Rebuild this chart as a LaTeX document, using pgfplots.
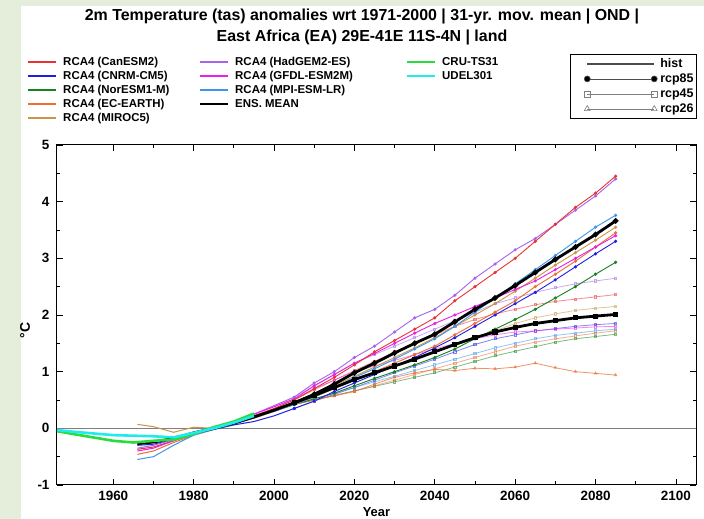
\documentclass[border=0pt]{standalone}
\usepackage{fontspec}
\setmainfont{Liberation Sans}
\usepackage{pgfplots}
\usepackage{pgfplotstable}
\pgfplotsset{compat=1.18}

\definecolor{bggreen}{RGB}{228,238,218}
\definecolor{cCan}{RGB}{235,50,50}
\definecolor{cCnrm}{RGB}{30,30,230}
\definecolor{cNor}{RGB}{20,130,30}
\definecolor{cEc}{RGB}{235,110,50}
\definecolor{cMiroc}{RGB}{200,150,70}
\definecolor{cHad}{RGB}{165,100,235}
\definecolor{cGfdl}{RGB}{235,30,235}
\definecolor{cMpi}{RGB}{60,150,235}
\definecolor{cCru}{RGB}{40,220,60}
\definecolor{cUdel}{RGB}{30,235,235}

% historical runs (31-yr moving mean)
\pgfplotstableread{
year can cnrm nor ec miroc had gfdl mpi ens
1966 -0.37 -0.30 -0.28 -0.46 0.07 -0.35 -0.40 -0.55 -0.27
1970 -0.33 -0.28 -0.25 -0.40 0.03 -0.30 -0.35 -0.50 -0.24
1975 -0.22 -0.20 -0.20 -0.25 -0.07 -0.20 -0.22 -0.30 -0.18
1980 -0.10 -0.10 -0.10 -0.12 0.02 -0.08 -0.10 -0.12 -0.08
1985 0.00 -0.02 0.00 -0.02 0.00 0.02 0.00 -0.02 0.00
1990 0.10 0.06 0.10 0.08 0.08 0.12 0.10 0.08 0.09
1995 0.22 0.12 0.20 0.18 0.18 0.25 0.25 0.20 0.20
2000 0.35 0.22 0.30 0.30 0.30 0.40 0.38 0.30 0.32
2005 0.50 0.35 0.42 0.42 0.45 0.55 0.52 0.42 0.45
}\histtab

\pgfplotstableread{
year can cnrm nor ec miroc had gfdl mpi ens
2005 0.50 0.35 0.42 0.42 0.45 0.55 0.52 0.42 0.45
2010 0.70 0.48 0.52 0.55 0.60 0.80 0.75 0.55 0.60
2015 0.90 0.65 0.62 0.70 0.75 1.00 0.95 0.72 0.78
2020 1.12 0.80 0.75 0.85 0.92 1.25 1.15 0.90 0.98
2025 1.35 0.95 0.88 1.00 1.08 1.45 1.32 1.05 1.15
2030 1.55 1.10 1.00 1.15 1.25 1.70 1.50 1.22 1.33
2035 1.75 1.25 1.12 1.30 1.42 1.95 1.68 1.40 1.50
2040 1.95 1.42 1.25 1.45 1.60 2.10 1.85 1.58 1.66
2045 2.25 1.60 1.40 1.65 1.80 2.35 2.00 1.80 1.88
2050 2.50 1.80 1.58 1.85 2.00 2.65 2.15 2.05 2.10
2055 2.75 2.00 1.75 2.05 2.20 2.90 2.30 2.30 2.30
2060 3.00 2.20 1.92 2.25 2.42 3.15 2.45 2.55 2.52
2065 3.30 2.40 2.10 2.50 2.65 3.35 2.60 2.80 2.75
2070 3.60 2.62 2.30 2.72 2.88 3.60 2.80 3.05 2.98
2075 3.90 2.85 2.50 2.95 3.10 3.85 3.00 3.30 3.20
2080 4.15 3.08 2.72 3.20 3.32 4.10 3.20 3.55 3.42
2085 4.45 3.30 2.93 3.45 3.55 4.40 3.40 3.76 3.66
}\rcpA

\pgfplotstableread{
year can cnrm nor ec miroc had gfdl mpi ens
2005 0.50 0.35 0.42 0.42 0.45 0.55 0.52 0.42 0.45
2010 0.68 0.48 0.50 0.50 0.58 0.75 0.70 0.52 0.58
2015 0.85 0.60 0.58 0.58 0.72 0.95 0.85 0.62 0.72
2020 1.02 0.72 0.66 0.66 0.85 1.15 1.00 0.72 0.86
2025 1.18 0.85 0.74 0.75 0.98 1.30 1.10 0.82 0.98
2030 1.35 0.98 0.82 0.85 1.10 1.45 1.20 0.92 1.10
2035 1.50 1.10 0.90 0.95 1.22 1.60 1.30 1.02 1.22
2040 1.65 1.22 0.98 1.05 1.35 1.75 1.40 1.12 1.35
2045 1.80 1.35 1.08 1.15 1.48 1.90 1.50 1.22 1.48
2050 1.92 1.48 1.18 1.25 1.60 2.05 1.58 1.32 1.60
2055 2.02 1.58 1.28 1.35 1.72 2.20 1.65 1.42 1.70
2060 2.10 1.65 1.36 1.45 1.85 2.30 1.70 1.50 1.78
2065 2.18 1.72 1.44 1.52 1.95 2.40 1.72 1.58 1.85
2070 2.24 1.76 1.52 1.58 2.02 2.48 1.75 1.64 1.90
2075 2.28 1.80 1.58 1.63 2.08 2.55 1.77 1.68 1.95
2080 2.32 1.83 1.62 1.68 2.12 2.60 1.79 1.72 1.98
2085 2.36 1.85 1.66 1.72 2.15 2.65 1.80 1.75 2.01
}\rcpB

\pgfplotstableread{
year ec
2005 0.42
2010 0.50
2015 0.57
2020 0.65
2025 0.78
2030 0.90
2035 0.98
2040 1.04
2045 1.02
2050 1.06
2055 1.05
2060 1.08
2065 1.15
2070 1.07
2075 1.00
2080 0.97
2085 0.94
}\rcpC

% observations
\pgfplotstableread{
year cru udel
1946 -0.05 -0.03
1950 -0.10 -0.06
1955 -0.16 -0.09
1960 -0.22 -0.12
1965 -0.25 -0.13
1970 -0.22 -0.14
1975 -0.20 -0.16
1980 -0.10 -0.08
1985 0.02 0.00
1990 0.12 0.10
1995 0.26 0.22
}\obs

\pgfplotsset{
  hist/.style={line width=1bp, mark=none},
  r85/.style={line width=0.9bp, mark=*, mark size=1.1bp},
  r45/.style={line width=0.8bp, mark=square, mark size=1.1bp, opacity=0.55},
  r26/.style={line width=0.8bp, mark=triangle, mark size=1.3bp, opacity=0.75},
  legbox/.style={hide axis, scale only axis, at={(0bp,0bp)}, anchor=south west,
    width=704bp, height=519bp, xmin=0, xmax=1, ymin=0, ymax=1},
  colleg/.style={legend style={draw=none, fill=none, inner sep=0pt,
    font=\bfseries\fontsize{11.5}{13}\selectfont, row sep=0pt,
    nodes={inner sep=1bp, text height=9.5bp, text depth=2.5bp}},
    legend cell align=left,
    legend image code/.code={\draw[##1] (0bp,0bp) -- (28bp,0bp); \path (33bp,0bp);}},
}

\begin{document}
\begin{tikzpicture}
\useasboundingbox (0,0) rectangle (704bp,519bp);
\fill[bggreen] (0,0) rectangle (704bp,519bp);
\fill[white] (21bp,0) rectangle (704bp,513bp);

\node[align=center, font=\bfseries\fontsize{16}{21}\selectfont] at (362bp,492bp)
  {2m Temperature (tas) anomalies wrt 1971-2000 | 31-yr. mov. mean | OND |\\
   East Africa (EA) 29E-41E 11S-4N | land};

\begin{axis}[
  at={(57bp,34bp)}, anchor=south west,
  scale only axis, width=639bp, height=340bp,
  xmin=1946, xmax=2105, ymin=-1, ymax=5,
  xtick={1960,1980,...,2100}, minor x tick num=1,
  ytick={-1,0,...,5}, minor y tick num=1,
  tick align=inside, major tick length=6bp, minor tick length=3.5bp,
  axis line style={line width=1bp},
  tick style={line width=0.8bp, black},
  /pgf/number format/1000 sep={},
  /pgf/number format/assume math mode=true,
  tick label style={font=\bfseries\fontsize{13.5}{15}\selectfont},
  xticklabel style={yshift=-3bp},
  yticklabel style={xshift=-4bp},
  xlabel={Year}, ylabel={°C},
  every axis x label/.style={at={(axis description cs:0.5,-0.08)}, anchor=center,
    font=\bfseries\fontsize{13}{15}\selectfont},
  every axis y label/.style={at={(axis description cs:-0.050,0.455)}, rotate=90, anchor=center,
    font=\bfseries\fontsize{14}{15}\selectfont},
]
\addplot[gray, line width=0.7bp, forget plot] coordinates {(1946,0) (2105,0)};

% hist
\addplot[hist, cCan] table[x=year, y=can] {\histtab};
\addplot[hist, cCnrm] table[x=year, y=cnrm] {\histtab};
\addplot[hist, cNor] table[x=year, y=nor] {\histtab};
\addplot[hist, cEc] table[x=year, y=ec] {\histtab};
\addplot[hist, cMiroc] table[x=year, y=miroc] {\histtab};
\addplot[hist, cHad] table[x=year, y=had] {\histtab};
\addplot[hist, cGfdl] table[x=year, y=gfdl] {\histtab};
\addplot[hist, cMpi] table[x=year, y=mpi] {\histtab};

% rcp45
\addplot[r45, cCan] table[x=year, y=can] {\rcpB};
\addplot[r45, cCnrm] table[x=year, y=cnrm] {\rcpB};
\addplot[r45, cNor] table[x=year, y=nor] {\rcpB};
\addplot[r45, cEc] table[x=year, y=ec] {\rcpB};
\addplot[r45, cMiroc] table[x=year, y=miroc] {\rcpB};
\addplot[r45, cHad] table[x=year, y=had] {\rcpB};
\addplot[r45, cGfdl] table[x=year, y=gfdl] {\rcpB};
\addplot[r45, cMpi] table[x=year, y=mpi] {\rcpB};

% rcp26
\addplot[r26, cEc] table[x=year, y=ec] {\rcpC};

% rcp85
\addplot[r85, cNor] table[x=year, y=nor] {\rcpA};
\addplot[r85, cCnrm] table[x=year, y=cnrm] {\rcpA};
\addplot[r85, cEc] table[x=year, y=ec] {\rcpA};
\addplot[r85, cMiroc] table[x=year, y=miroc] {\rcpA};
\addplot[r85, cGfdl] table[x=year, y=gfdl] {\rcpA};
\addplot[r85, cMpi] table[x=year, y=mpi] {\rcpA};
\addplot[r85, cHad] table[x=year, y=had] {\rcpA};
\addplot[r85, cCan] table[x=year, y=can] {\rcpA};

% ensemble means
\addplot[black, line width=2.8bp] table[x=year, y=ens] {\histtab};
\addplot[black, line width=2.8bp, mark=square, mark size=1.2bp] table[x=year, y=ens] {\rcpB};
\addplot[black, line width=2.8bp, mark=*, mark size=1.2bp] table[x=year, y=ens] {\rcpA};

% observations
\addplot[cCru, line width=2.6bp] table[x=year, y=cru] {\obs};
\addplot[cUdel, line width=2.6bp] table[x=year, y=udel] {\obs};
\end{axis}

% colour legend, column 1
\begin{axis}[legbox, colleg, legend style={at={(0.0384,0.894)}, anchor=north west}]
\addlegendimage{cCan, line width=2bp}\addlegendentry{RCA4 (CanESM2)}
\addlegendimage{cCnrm, line width=2bp}\addlegendentry{RCA4 (CNRM-CM5)}
\addlegendimage{cNor, line width=2bp}\addlegendentry{RCA4 (NorESM1-M)}
\addlegendimage{cEc, line width=2bp}\addlegendentry{RCA4 (EC-EARTH)}
\addlegendimage{cMiroc, line width=2bp}\addlegendentry{RCA4 (MIROC5)}
\end{axis}
% column 2
\begin{axis}[legbox, colleg, legend style={at={(0.2827,0.894)}, anchor=north west}]
\addlegendimage{cHad, line width=2bp}\addlegendentry{RCA4 (HadGEM2-ES)}
\addlegendimage{cGfdl, line width=2bp}\addlegendentry{RCA4 (GFDL-ESM2M)}
\addlegendimage{cMpi, line width=2bp}\addlegendentry{RCA4 (MPI-ESM-LR)}
\addlegendimage{black, line width=2bp}\addlegendentry{ENS. MEAN}
\end{axis}
% column 3
\begin{axis}[legbox, colleg, legend style={at={(0.5767,0.894)}, anchor=north west}]
\addlegendimage{cCru, line width=2bp}\addlegendentry{CRU-TS31}
\addlegendimage{cUdel, line width=2bp}\addlegendentry{UDEL301}
\end{axis}
% scenario legend
\begin{axis}[legbox,
  legend style={at={(0.9901,0.896)}, anchor=north east, draw=black,
    line width=0.9bp, fill=white, inner sep=2bp,
    font=\bfseries\fontsize{12.5}{14}\selectfont, row sep=0pt,
    nodes={inner sep=1bp, text height=10bp, text depth=3bp}},
  legend cell align=left,
  legend image code/.code={\path (-14bp,0bp) (71bp,0bp);
    \draw[#1] plot coordinates {(0bp,0bp) (67bp,0bp)};}]
\addlegendimage{black!70, line width=2.2bp}\addlegendentry{hist}
\addlegendimage{black!70, line width=0.6bp, mark=*, mark size=3bp, mark options={fill=black}}\addlegendentry{rcp85}
\addlegendimage{black!50, line width=0.6bp, mark=square, mark size=3bp}\addlegendentry{rcp45}
\addlegendimage{black!50, line width=0.6bp, mark=triangle, mark size=3.4bp}\addlegendentry{rcp26}
\end{axis}
\end{tikzpicture}
\end{document}
